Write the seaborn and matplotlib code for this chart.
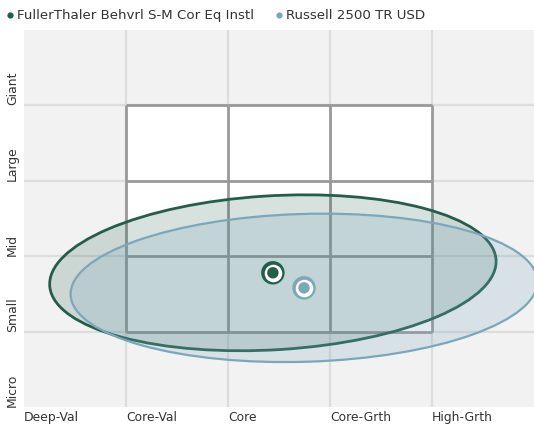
"""Morningstar-style equity style box with holdings ellipses."""

import matplotlib
matplotlib.use("Agg")
import matplotlib.pyplot as plt
import numpy as np
import pandas as pd
import seaborn as sns
from matplotlib.lines import Line2D
from matplotlib.patches import Ellipse, Rectangle

# data
series_names = ["FullerThaler Behvrl S-M Cor Eq Instl", "Russell 2500 TR USD"]
series_colors = ["#245e4b", "#7ba7bc"]
centroid_x = [2.44, 2.745]
centroid_y = [1.78, 1.58]
ellipse_width = [4.39, 4.58]
ellipse_height = [2.04, 1.96]
ellipse_angle = [5.0, 2.5]

style_labels = ["Deep-Val", "Core-Val", "Core", "Core-Grth", "High-Grth"]
size_labels = ["Micro", "Small", "Mid", "Large", "Giant"]
grid_pos = [1, 2, 3, 4]

TEXT = "#333333"
BG = "#f2f2f2"
GRID = "#dddddd"
BOX = "#999999"
FS = 8.9

sns.set_theme(style="white")
plt.rcParams["font.family"] = ["DejaVu Sans"]

fig = plt.figure(figsize=(5.34, 4.26), dpi=100)
ax = fig.add_axes([24 / 534, 19 / 426, 510 / 534, 377 / 426])
ax.set_facecolor(BG)
ax.set_xlim(0, 5)
ax.set_ylim(0, 5)
for s in ax.spines.values():
    s.set_visible(False)

# background grid
for p in grid_pos:
    ax.axvline(p, color=GRID, lw=1.6, zorder=0.5)
    ax.axhline(p, color=GRID, lw=1.6, zorder=0.5)

# style box
ax.add_patch(Rectangle((grid_pos[0], grid_pos[0]), grid_pos[-1] - grid_pos[0], grid_pos[-1] - grid_pos[0],
                       facecolor="white", edgecolor="none", zorder=1))
ax.vlines(grid_pos, grid_pos[0], grid_pos[-1], color=BOX, lw=2, zorder=1.5)
ax.hlines(grid_pos, grid_pos[0], grid_pos[-1], color=BOX, lw=2, zorder=1.5)

# holdings ellipses
ell_alpha = [0.18, 0.22]
for i in range(len(series_names)):
    ax.add_patch(Ellipse((centroid_x[i], centroid_y[i]), ellipse_width[i], ellipse_height[i],
                         angle=ellipse_angle[i], facecolor=series_colors[i], alpha=ell_alpha[i],
                         edgecolor="none", zorder=2 + i))
    ax.add_patch(Ellipse((centroid_x[i], centroid_y[i]), ellipse_width[i], ellipse_height[i],
                         angle=ellipse_angle[i], facecolor="none", edgecolor=series_colors[i],
                         lw=2 if i == 0 else 1.6, zorder=2 + i))

# centroids
df = pd.DataFrame({"name": series_names, "x": centroid_x, "y": centroid_y})
pal = dict(zip(series_names, series_colors))
sns.scatterplot(data=df, x="x", y="y", hue="name", palette=pal, s=285, linewidth=0,
                legend=False, ax=ax, zorder=5)
ax.scatter(df["x"], df["y"], s=160, color="white", linewidth=0, zorder=6)
sns.scatterplot(data=df, x="x", y="y", hue="name", palette=pal, s=68, linewidth=0,
                legend=False, ax=ax, zorder=7)

# axes labels
ax.set_xticks(range(len(style_labels)))
ax.set_xticklabels(style_labels, ha="left", color=TEXT, fontsize=FS)
ax.set_yticks(range(len(size_labels)))
ax.set_yticklabels(size_labels, rotation=90, va="bottom", color=TEXT, fontsize=FS)
ax.tick_params(axis="x", length=0, pad=3)
ax.tick_params(axis="y", length=0, pad=3.5)
ax.set_xlabel("")
ax.set_ylabel("")

# legend
handles = [Line2D([], [], marker="o", linestyle="none", markersize=4.5,
                  markerfacecolor=c, markeredgecolor="none") for c in series_colors]
fig.legend(handles, series_names, loc="upper left", bbox_to_anchor=(-0.016, 1.006), ncol=2,
           frameon=False, handletextpad=0.0, columnspacing=1.4, handlelength=1.0,
           prop={"size": 9.6}, labelcolor=TEXT)

fig.savefig("out.png", dpi=100)
